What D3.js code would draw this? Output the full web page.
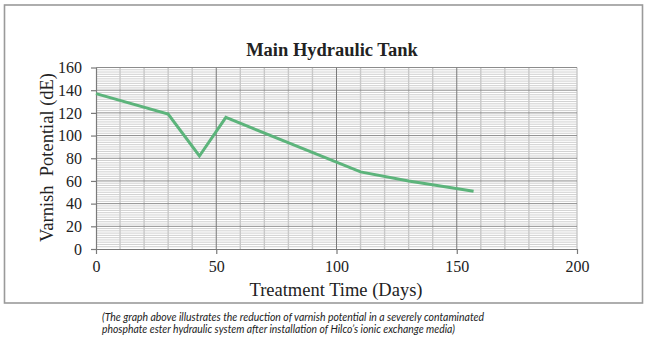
<!DOCTYPE html>
<html>
<head>
<meta charset="utf-8">
<script src="https://cdn.jsdelivr.net/npm/d3@7"></script>
<style>
  html, body { margin: 0; padding: 0; background: #fff; }
  svg { display: block; }
</style>
</head>
<body>
<script>
const days = [0, 30, 43, 54, 110, 130, 157];
const varnish = [137, 119, 82, 116, 68, 60, 51];
const xTicks = [0, 50, 100, 150, 200];
const yTicks = [0, 20, 40, 60, 80, 100, 120, 140, 160];
const title = "Main Hydraulic Tank";
const xTitle = "Treatment Time (Days)";
const yTitle = "Varnish\u00A0 Potential (dE)";
const caption = [
  "(The graph above illustrates the reduction of varnish potential in a severely contaminated",
  "phosphate ester hydraulic system after installation of Hilco\u2019s ionic exchange media)"
];

const W = 648, H = 350;
const svg = d3.select("body").append("svg").attr("width", W).attr("height", H);
const serif = "'Liberation Serif', 'Times New Roman', serif";

// frame
svg.append("rect").attr("x", 4.5).attr("y", 5).attr("width", 638).attr("height", 298)
  .attr("fill", "none").attr("stroke", "#9a9a9a").attr("stroke-width", 1.6);

const x = d3.scaleLinear().domain([0, 200]).range([96, 577]);
const y = d3.scaleLinear().domain([0, 160]).range([249, 67.5]);

const grid = svg.append("g");
// horizontal minor
grid.selectAll("line.hmin").data(d3.range(0, 161, 2).filter(v => v % 20 !== 0)).join("line")
  .attr("x1", x(0)).attr("x2", x(200)).attr("y1", d => y(d)).attr("y2", d => y(d))
  .attr("stroke", "#c4c4c4").attr("stroke-width", 0.8);
// vertical minor
grid.selectAll("line.vmin").data(d3.range(10, 201, 10).filter(v => v % 50 !== 0 || v === 200)).join("line")
  .attr("x1", d => x(d)).attr("x2", d => x(d)).attr("y1", y(0)).attr("y2", y(160))
  .attr("stroke", "#c8c8c8").attr("stroke-width", 1.4);
// horizontal major
grid.selectAll("line.hmaj").data(d3.range(20, 161, 20)).join("line")
  .attr("x1", x(0)).attr("x2", x(200)).attr("y1", d => y(d)).attr("y2", d => y(d))
  .attr("stroke", "#8c8c8c").attr("stroke-width", 1);
// vertical major
grid.selectAll("line.vmaj").data([50, 100, 150]).join("line")
  .attr("x1", d => x(d)).attr("x2", d => x(d)).attr("y1", y(0)).attr("y2", y(160))
  .attr("stroke", "#7a7a7a").attr("stroke-width", 1);

// axes
const yAxis = svg.append("g").attr("transform", `translate(${x(0)},0)`)
  .call(d3.axisLeft(y).tickValues(yTicks).tickSize(5).tickPadding(9).tickSizeOuter(0));
const xAxis = svg.append("g").attr("transform", `translate(0,${y(0)})`)
  .call(d3.axisBottom(x).tickValues(xTicks).tickSize(5).tickPadding(7).tickSizeOuter(0));
[yAxis, xAxis].forEach(g => {
  g.select(".domain").attr("stroke", "#7a7a7a").attr("stroke-width", 1.2);
  g.selectAll(".tick line").attr("stroke", "#7a7a7a").attr("stroke-width", 1.2);
  g.selectAll(".tick text").attr("font-family", serif).attr("font-size", 16).attr("fill", "#222");
});

// data line
svg.append("path")
  .datum(days.map((d, i) => [d, varnish[i]]))
  .attr("fill", "none").attr("stroke", "#5cb47b").attr("stroke-width", 3)
  .attr("stroke-linejoin", "miter")
  .attr("d", d3.line().x(d => x(d[0])).y(d => y(d[1])));

// titles
svg.append("text").attr("x", 332).attr("y", 56).attr("text-anchor", "middle")
  .attr("font-family", serif).attr("font-weight", "bold").attr("font-size", 18.5).attr("fill", "#222")
  .text(title);
svg.append("text").attr("x", 336).attr("y", 296).attr("text-anchor", "middle")
  .attr("font-family", serif).attr("font-size", 18.5).attr("fill", "#222")
  .text(xTitle);
svg.append("text").attr("transform", "translate(53,157.5) rotate(-90)").attr("text-anchor", "middle")
  .attr("font-family", serif).attr("font-size", 18.5).attr("fill", "#222")
  .text(yTitle);

// caption
const capLens = [382, 353];
svg.selectAll("text.cap").data(caption).join("text")
  .attr("x", 102).attr("y", (d, i) => 321 + i * 11.5)
  .attr("font-family", "Lato, 'Open Sans', sans-serif").attr("font-style", "italic")
  .attr("font-size", 10.5).attr("fill", "#222")
  .attr("textLength", (d, i) => capLens[i]).attr("lengthAdjust", "spacingAndGlyphs")
  .text(d => d);
</script>
</body>
</html>
